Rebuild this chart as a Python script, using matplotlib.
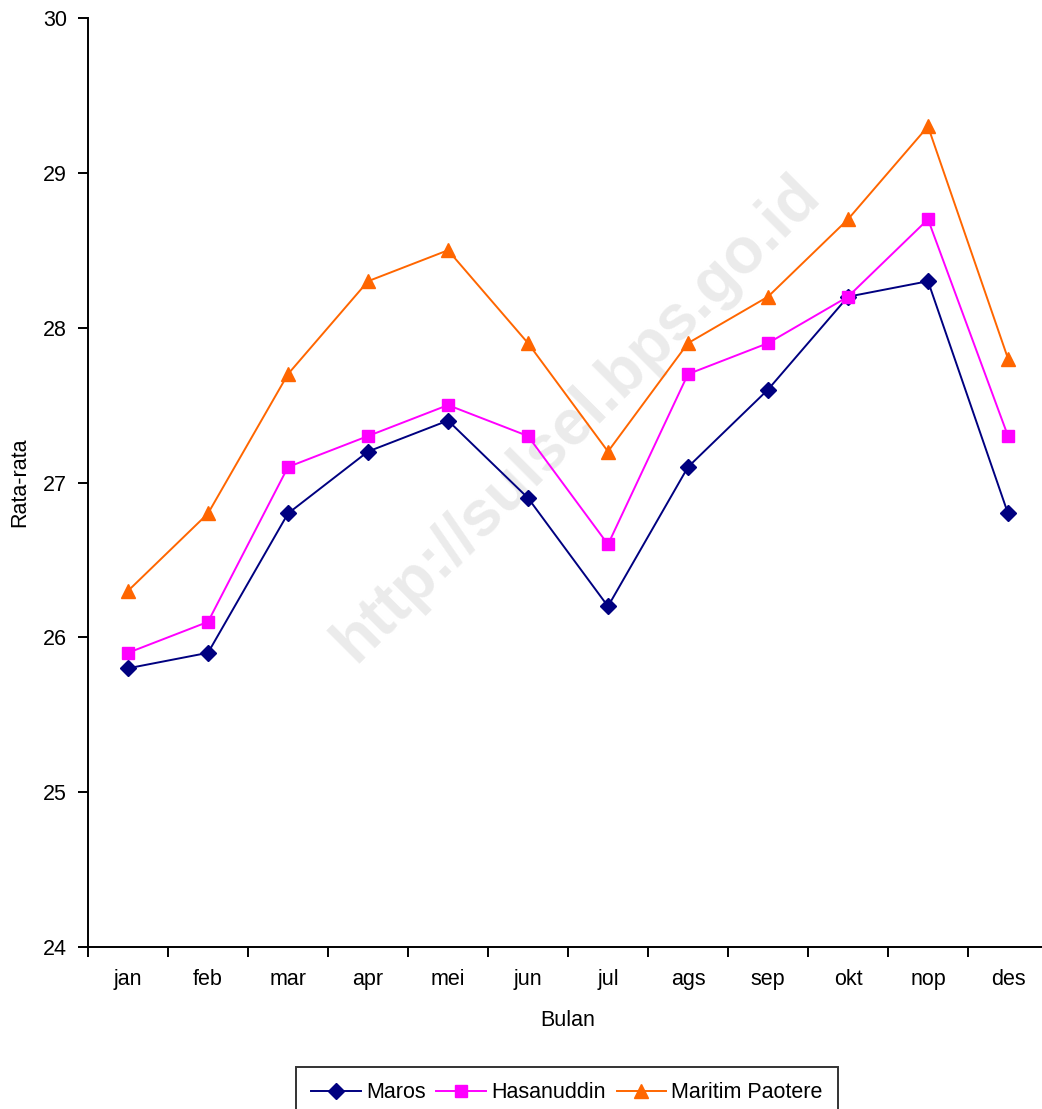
import numpy as np
import matplotlib
matplotlib.use('Agg')
import matplotlib.pyplot as plt

plt.rcParams['font.family'] = ['Liberation Sans', 'DejaVu Sans']

bulan = ['jan', 'feb', 'mar', 'apr', 'mei', 'jun', 'jul', 'ags', 'sep', 'okt', 'nop', 'des']
maros = [25.8, 25.9, 26.8, 27.2, 27.4, 26.9, 26.2, 27.1, 27.6, 28.2, 28.3, 26.8]
hasanuddin = [25.9, 26.1, 27.1, 27.3, 27.5, 27.3, 26.6, 27.7, 27.9, 28.2, 28.7, 27.3]
paotere = [26.3, 26.8, 27.7, 28.3, 28.5, 27.9, 27.2, 27.9, 28.2, 28.7, 29.3, 27.8]

fig = plt.figure(figsize=(10.42, 11.09), dpi=100)
ax = fig.add_axes([88/1042, 1 - 947/1109, 960/1042, (947 - 18)/1109])

x = np.arange(len(bulan))
ax.plot(x, maros, color='#000080', lw=1.4, marker='D', ms=8, label='Maros')
ax.plot(x, hasanuddin, color='#FF00FF', lw=1.4, marker='s', ms=9, label='Hasanuddin')
ax.plot(x, paotere, color='#FF6600', lw=1.4, marker='^', ms=10, label='Maritim Paotere')

# watermark
ax.text(0.509, 0.569, 'http://sulsel.bps.go.id', transform=ax.transAxes, rotation=45,
        fontsize=46, fontweight='bold', color='#ebebeb', ha='center', va='center', zorder=0)

fs = 15.5
ax.set_xlim(-0.5, 11.5)
ax.set_ylim(24, 30)
ax.set_yticks(range(24, 31))
ax.set_xticks(np.arange(-0.5, 12, 1))
ax.set_xticklabels([])
ax.set_xticks(x, minor=True)
ax.set_xticklabels(bulan, minor=True)
ax.tick_params(axis='x', which='major', length=7, width=1.4, direction='out')
ax.tick_params(axis='x', which='minor', length=0, pad=16, labelsize=fs)
ax.tick_params(axis='y', length=7, width=1.4, pad=8, labelsize=fs)

for s in ['top', 'right']:
    ax.spines[s].set_visible(False)
for s in ['left', 'bottom']:
    ax.spines[s].set_linewidth(1.4)

ax.set_xlabel('Bulan', fontsize=fs)
ax.set_ylabel('Rata-rata', fontsize=fs)
ax.xaxis.set_label_coords(0.5, (947 - 1020)/929)
ax.yaxis.set_label_coords((20 - 88)/960, 0.5)
ax.xaxis.label.set_va('center')
ax.yaxis.label.set_va('center')

leg = ax.legend(loc='upper center', bbox_to_anchor=(567/1042, 1 - 1067/1109),
                bbox_transform=fig.transFigure, ncol=3, fontsize=fs, frameon=True,
                fancybox=False, edgecolor='black', handlelength=2.3, handletextpad=0.25,
                columnspacing=0.5, borderpad=0.7, borderaxespad=0)
leg.get_frame().set_linewidth(1.4)

fig.savefig('out.png', dpi=100)
